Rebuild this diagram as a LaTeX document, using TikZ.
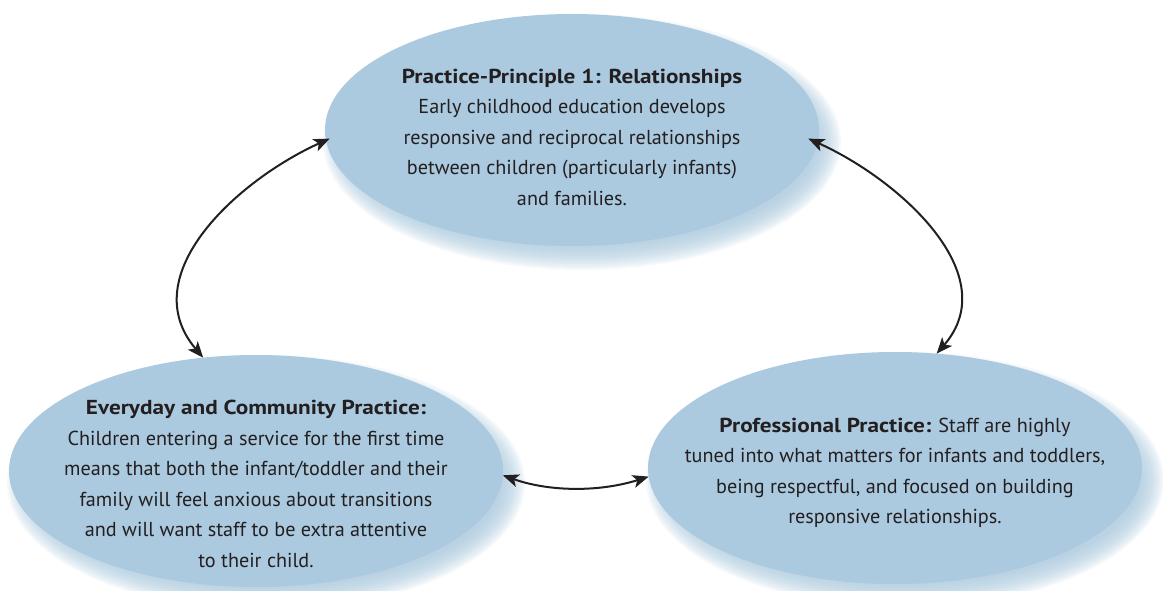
\documentclass[tikz,border=0pt]{standalone}
\usepackage{fontspec}
\setmainfont{PT Sans}[BoldFeatures={FakeStretch=1.15}]
\usetikzlibrary{arrows.meta,shapes.geometric,calc}
\definecolor{ellfill}{HTML}{ABCADF}
\definecolor{shadowcol}{HTML}{ABCADF}
\definecolor{ink}{HTML}{231F20}
\tikzset{
  bubble/.style={ellipse, fill=ellfill, minimum width=494pt, minimum height=232pt, inner sep=0pt, outer sep=0pt},
  tipshape/.tip={Stealth[length=16pt,width=13pt,inset=4pt]},
  conn/.style={draw=ink, line width=2pt, tipshape-tipshape},
  txt/.style={align=center, text=ink, font=\fontsize{20.2}{30.5}\selectfont, inner sep=0pt}
}
\begin{document}
\begin{tikzpicture}[x=1pt,y=-1pt]
\useasboundingbox (0,0) rectangle (1163,591);
\clip (0,0) rectangle (1163,591);
\fill[white] (0,0) rectangle (1163,591);
% soft shadows
\foreach \cx/\cy in {572/130,256/471,895/468}{
  \foreach \s in {-12,-10,...,12}{
    \fill[shadowcol, opacity=0.11] (\cx+10,\cy+12) ellipse [x radius={(247+\s)*1pt}, y radius={(116+\s)*1pt}];
  }
}
\node[bubble] (top) at (572,130) {};
\node[bubble] (left) at (256,471) {};
\node[bubble] (right) at (895,468) {};
% connectors
\draw[conn] ($(top.182)+(4,0)$) .. controls (238,180) and (133,275) .. (left.115);
\draw[conn] ($(top.358)+(-10,0)$) .. controls (900,180) and (1005,275) .. (right.70);
\draw[conn] (left.359) .. controls (550,492) and (600,492) .. (right.182);
% texts
\node[txt] (toptext) at (572,137) {\textbf{Practice-Principle 1: Relationships}\\ Early childhood education develops\\ responsive and reciprocal relationships\\ between children (particularly infants)\\ and families.};
\node[txt] (lefttext) at (256,484) {\textbf{Everyday and Community Practice:}\\ Children entering a service for the first time\\ means that both the infant/toddler and their\\ family will feel anxious about transitions\\ and will want staff to be extra attentive\\ to their child.};
\node[txt] (righttext) at (895,473) {\textbf{Professional Practice:} Staff are highly\\ tuned into what matters for infants and toddlers,\\ being respectful, and focused on building\\ responsive relationships.};
\end{tikzpicture}
\end{document}
